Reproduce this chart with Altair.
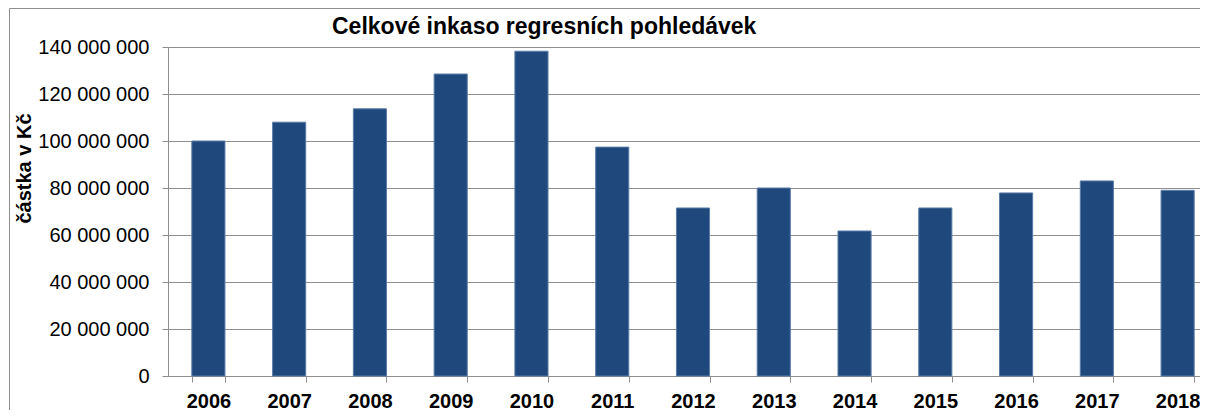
import altair as alt
import pandas as pd

years = ["2006", "2007", "2008", "2009", "2010", "2011", "2012",
         "2013", "2014", "2015", "2016", "2017", "2018"]
amounts = [100000000, 108000000, 113700000, 128500000, 138200000, 97400000, 71500000,
           80000000, 61700000, 71500000, 77900000, 83000000, 79000000]

df = pd.DataFrame({"rok": years, "castka": amounts})
frame_df = pd.DataFrame({"k": [0]})

FONT = "Liberation Sans"
GRAY = "#8e8e8e"

bars = alt.Chart(df).mark_bar(
    color="#1f497d", stroke="#5a7ca6", strokeWidth=1
).encode(
    x=alt.X("rok:N", sort=years,
            scale=alt.Scale(range=[0, 1050], paddingInner=0.59, paddingOuter=0.295),
            axis=alt.Axis(title=None, labelAngle=0, labelFont=FONT, labelFontSize=20,
                          labelFontWeight="bold", labelColor="black", labelPadding=9,
                          tickBand="extent", tickSize=6, tickColor=GRAY,
                          domainColor=GRAY, grid=False)),
    y=alt.Y("castka:Q",
            scale=alt.Scale(domain=[0, 140000000], nice=False),
            axis=alt.Axis(title="částka v Kč", values=list(range(0, 140000001, 20000000)),
                          format=",d", labelFont=FONT, labelFontSize=20, labelColor="black",
                          labelPadding=13, tickSize=6, tickColor=GRAY, domainColor=GRAY,
                          gridColor=GRAY, gridWidth=1, gridOpacity=1,
                          titleFont=FONT, titleFontSize=20, titleFontWeight="bold",
                          titleColor="black", titleAngle=-90, titleX=-144, titleY=121,
                          titleAlign="center", titleBaseline="middle")),
)

frame_left = alt.Chart(frame_df).mark_rule(stroke=GRAY, strokeWidth=1).encode(
    x=alt.value(-158.5), y=alt.value(-38.5), y2=alt.value(3000)
)
frame_top = alt.Chart(frame_df).mark_rule(stroke=GRAY, strokeWidth=1).encode(
    x=alt.value(-158.5), x2=alt.value(3000), y=alt.value(-38.5)
)

chart = alt.layer(frame_left, frame_top, bars).properties(
    width=1032, height=329,
    autosize=alt.AutoSizeParams(type="none"),
    padding={"left": 160, "top": 39, "right": 0, "bottom": 34},
    title=alt.TitleParams("Celkové inkaso regresních pohledávek", anchor="start", frame="group",
                          dx=164, font=FONT, fontSize=23, fontWeight="bold", color="black",
                          baseline="alphabetic", offset=0, dy=49),
).configure_view(stroke=None).configure(
    locale={"number": {"decimal": ",", "thousands": " ", "grouping": [3], "currency": ["", " Kč"]}}
)

chart.save("out.html", embed_options={"renderer": "svg", "actions": False})
